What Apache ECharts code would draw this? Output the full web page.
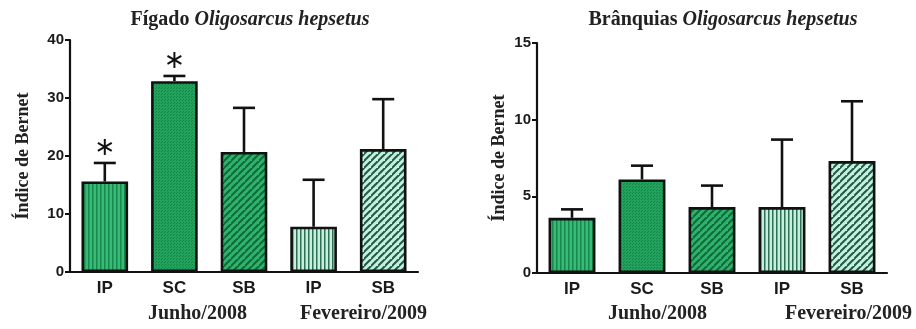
<!DOCTYPE html>
<html>
<head>
<meta charset="utf-8">
<script src="https://cdn.jsdelivr.net/npm/echarts@6/dist/echarts.min.js"></script>
<style>
  html, body { margin: 0; padding: 0; background: #fff; }
  #chart { width: 916px; height: 329px; }
</style>
</head>
<body>
<div id="chart"></div>
<script>
// Groups on the x axis (sampling site, per campaign)
const categories = ['IP', 'SC', 'SB', 'IP', 'SB'];
const campaigns = ['Junho/2008', 'Fevereiro/2009'];

// Liver (Fígado) – mean Bernet index and upper error value
const liverMean = [15.6, 32.9, 20.7, 7.8, 21.2];
const liverErrTop = [18.8, 33.8, 28.3, 15.9, 29.8];
const liverSignificant = [true, true, false, false, false];

// Gills (Brânquias) – mean Bernet index and upper error value
const gillMean = [3.6, 6.1, 4.3, 4.3, 7.3];
const gillErrTop = [4.15, 7.0, 5.7, 8.7, 11.2];
const gillSignificant = [false, false, false, false, false];

const liverTicks = { min: 0, max: 40, interval: 10 };
const gillTicks = { min: 0, max: 15, interval: 5 };

// ---- fill patterns -------------------------------------------------------
function tile(size, draw) {
  const c = document.createElement('canvas');
  c.width = size; c.height = size;
  draw(c.getContext('2d'), size);
  return c;
}
function vStripes(base, line) {
  return tile(4, (g, s) => {
    g.fillStyle = base; g.fillRect(0, 0, s, s);
    g.fillStyle = line; g.fillRect(0, 0, 1.5, s);
  });
}
function diag(base, line) {
  return tile(7, (g, s) => {
    g.fillStyle = base; g.fillRect(0, 0, s, s);
    g.strokeStyle = line; g.lineWidth = 2;
    g.beginPath();
    g.moveTo(-1, s + 1); g.lineTo(s + 1, -1);
    g.moveTo(-1 - s, s + 1); g.lineTo(1, -1);
    g.moveTo(s - 1, 2 * s + 1); g.lineTo(2 * s + 1, s - 1);
    g.stroke();
  });
}
function dots(base, dot) {
  return tile(3, (g, s) => {
    g.fillStyle = base; g.fillRect(0, 0, s, s);
    g.fillStyle = dot; g.fillRect(0, 0, 1, 1); g.fillRect(2, 1, 1, 1);
  });
}
const fills = [
  vStripes('#36ba76', '#17884b'),
  dots('#22a35c', '#16844a'),
  diag('#2fb26c', '#0f6a3a'),
  vStripes('#c6efdc', '#2f6f56'),
  diag('#c2f1dc', '#24584a')
];

function barData(values) {
  return values.map((v, i) => ({
    value: v,
    itemStyle: { color: { image: fills[i], repeat: 'repeat' } }
  }));
}

// error bar (upper only, with cap) + optional significance asterisk
function errorSeries(idx, mean, top, sig) {
  return {
    type: 'custom',
    xAxisIndex: idx, yAxisIndex: idx,
    data: mean.map((m, i) => [i, m, top[i], sig[i] ? 1 : 0]),
    z: 1,
    renderItem: function (params, api) {
      const x = api.value(0);
      const p0 = api.coord([x, api.value(1)]);
      const p1 = api.coord([x, api.value(2)]);
      const half = 11;
      const style = { stroke: '#111', lineWidth: 2.6 };
      const children = [
        { type: 'line', shape: { x1: p0[0], y1: p0[1], x2: p1[0], y2: p1[1] }, style: style },
        { type: 'line', shape: { x1: p1[0] - half, y1: p1[1], x2: p1[0] + half, y2: p1[1] }, style: style }
      ];
      if (api.value(3)) {
        const cx = p1[0], cy = p1[1] - 16, r = 8;
        const st = { stroke: '#111', lineWidth: 2 };
        for (let k = 0; k < 3; k++) {
          const a = Math.PI / 2 + k * Math.PI / 3;
          children.push({ type: 'line', shape: {
            x1: cx - r * Math.cos(a), y1: cy - r * Math.sin(a),
            x2: cx + r * Math.cos(a), y2: cy + r * Math.sin(a) }, style: st });
        }
      }
      return { type: 'group', children: children };
    }
  };
}

const tickFont = { fontFamily: 'Liberation Sans, Arial, sans-serif', fontWeight: 'bold', color: '#1a1a1a' };
const serif = 'Liberation Serif, Times New Roman, serif';

function xAxis(idx) {
  return {
    gridIndex: idx, type: 'category', data: categories,
    axisLine: { lineStyle: { color: '#111', width: 2.2 } },
    axisTick: { alignWithLabel: true, length: 5, lineStyle: { color: '#111', width: 2 } },
    axisLabel: Object.assign({ fontSize: 17, margin: 8 }, tickFont)
  };
}
function yAxis(idx, t, name) {
  return {
    gridIndex: idx, type: 'value', min: t.min, max: t.max, interval: t.interval,
    name: name, nameLocation: 'middle', nameGap: idx === 0 ? 38 : 29, nameRotate: 90,
    nameTextStyle: { fontFamily: serif, fontWeight: 'bold', fontSize: 18, color: '#222' },
    axisLine: { show: true, lineStyle: { color: '#111', width: 2.2 } },
    axisTick: { show: true, length: 5, lineStyle: { color: '#111', width: 2 } },
    axisLabel: Object.assign({ fontSize: 15, margin: 6 }, tickFont),
    splitLine: { show: false }
  };
}
function barSeries(idx, values) {
  return {
    type: 'bar', xAxisIndex: idx, yAxisIndex: idx,
    data: barData(values), barWidth: '67%', z: 2,
    itemStyle: { borderColor: '#111', borderWidth: 2.6 }
  };
}

const titleRich = {
  a: { fontFamily: serif, fontWeight: 'bold', fontSize: 20, color: '#222' },
  b: { fontFamily: serif, fontWeight: 'bold', fontStyle: 'italic', fontSize: 20, color: '#222' }
};

const groupLabel = (x, text) => ({
  type: 'text', left: x, top: 304,
  style: { text: text, fontFamily: serif, fontWeight: 'bold', fontSize: 20, fill: '#222' }
});

const chart = echarts.init(document.getElementById('chart'));
chart.setOption({
  animation: false,
  title: [
    { text: '{a|Fígado} {b|Oligosarcus hepsetus}', left: 245, top: 5, textAlign: 'center', textStyle: { rich: titleRich } },
    { text: '{a|Brânquias} {b|Oligosarcus hepsetus}', left: 718, top: 5, textAlign: 'center', textStyle: { rich: titleRich } }
  ],
  grid: [
    { left: 70, top: 40, width: 348, height: 232 },
    { left: 537, top: 43, width: 350, height: 230 }
  ],
  xAxis: [xAxis(0), xAxis(1)],
  yAxis: [yAxis(0, liverTicks, 'Índice de Bernet'), yAxis(1, gillTicks, 'Índice de Bernet')],
  series: [
    errorSeries(0, liverMean, liverErrTop, liverSignificant),
    barSeries(0, liverMean),
    errorSeries(1, gillMean, gillErrTop, gillSignificant),
    barSeries(1, gillMean)
  ],
  graphic: [
    groupLabel(148, campaigns[0]),
    groupLabel(300, campaigns[1]),
    groupLabel(608, campaigns[0]),
    groupLabel(785, campaigns[1])
  ]
});
</script>
</body>
</html>
